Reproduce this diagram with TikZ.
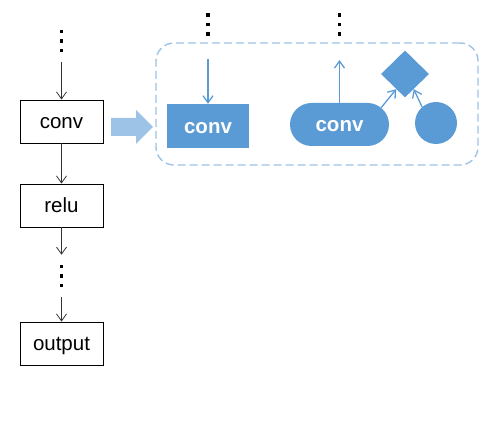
\documentclass[tikz,border=0pt]{standalone}
\usepackage{fontspec}
\setmainfont{Liberation Sans}
\usetikzlibrary{arrows.meta,shapes.geometric,shapes.misc}
\definecolor{nnblue}{HTML}{5B9BD5}
\definecolor{nnlight}{HTML}{9DC3E6}
\newcommand{\sqdot}{\hbox{\rule{3.5pt}{3.5pt}}}
\newcommand{\sqdots}{\vbox{\offinterlineskip\sqdot\kern6pt\sqdot\kern6pt\sqdot}}

\begin{document}
\begin{tikzpicture}[x=1pt,y=-1pt,
    layer/.style={draw,line width=0.8pt,minimum width=83pt,minimum height=43pt,inner sep=0pt,
        text height=14.7pt,text depth=0pt,font=\fontsize{20.5}{24}\selectfont},
    fused/.style={fill=nnblue,text=white,inner sep=0pt,text height=14.7pt,text depth=0pt,
        font=\fontsize{20.5}{24}\selectfont\bfseries},
    vdots/.style={inner sep=0pt,outer sep=10pt},
    arr/.style={-{Straight Barb[length=7pt,width=10pt]},line width=0.8pt,black!80},
    barr/.style={arr,nnblue,line width=1.3pt}]
    \useasboundingbox (0,0) rectangle (495,438);

    % original graph
    \node[vdots] (d1) at (61.5,41) {\sqdots};
    \node[layer] (conv) at (61.5,121.5) {conv};
    \node[layer] (relu) at (61.5,205.5) {relu};
    \node[vdots] (d2) at (61.5,276) {\sqdots};
    \node[layer] (out) at (61.5,343.5) {output};
    \draw[arr] (d1.south) -- (conv.north);
    \draw[arr] (conv.south) -- (relu.north);
    \draw[arr] (relu.south) -- (d2.north);
    \draw[arr] (d2.south) -- (out.north);

    % becomes
    \fill[nnlight] (111,118) -- (136,118) -- (136,110) -- (153,127)
        -- (136,144) -- (136,136) -- (111,136) -- cycle;

    % fused graph
    \node[draw=nnlight,dash pattern=on 8pt off 4pt,line width=1.4pt,rounded corners=18pt,
        minimum width=322pt,minimum height=122pt] (group) at (317,104) {};
    \node[fused,minimum width=82pt,minimum height=44pt] (bconv) at (208,126) {conv};
    \node[fused,rounded rectangle,minimum width=99pt,minimum height=43pt] (pill) at (339.5,124.5) {conv};
    \node[fill=nnblue,diamond,inner sep=0pt,minimum width=48pt,minimum height=47pt] (dia) at (405,74) {};
    \node[fill=nnblue,circle,inner sep=0pt,minimum size=42pt] (dot) at (436,123) {};
    \node[inner sep=0pt] (d3) at (208,24.5) {\sqdots};
    \node[inner sep=0pt] (d4) at (339.5,24.5) {\sqdots};
    \coordinate (in) at (208,59);
    \coordinate (up) at (339.5,60);
    \draw[barr] (in) -- (bconv.north);
    \draw[barr] (pill.north) -- (up);
    \draw[barr] (pill.22) -- (dia.240);
    \draw[barr] (dot.131) -- (dia.300);
\end{tikzpicture}
\end{document}
